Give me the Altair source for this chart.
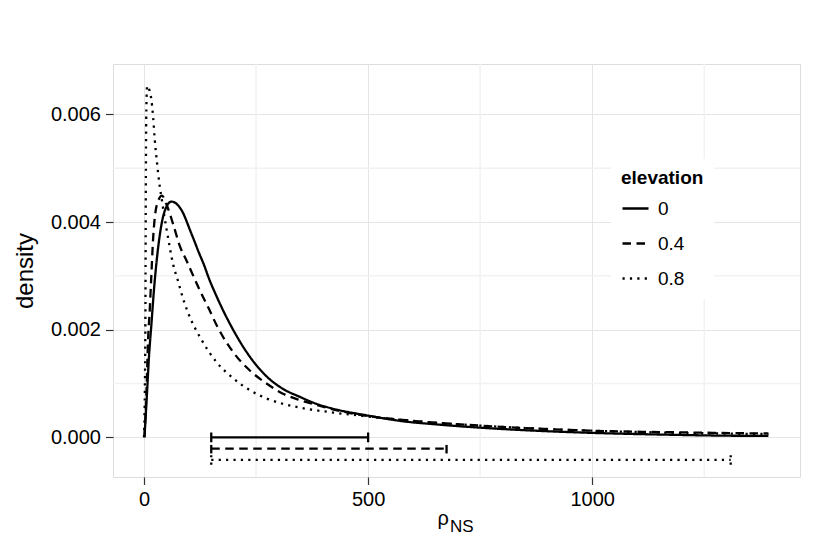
import altair as alt
import pandas as pd

# ---------------- data ----------------
elevations = ["0", "0.4", "0.8"]

# elevation 0 (solid)
x_e0 = [1, 7, 11, 16.5, 22, 29, 36.5, 46, 61, 83, 105, 124, 134, 144, 164, 200, 235, 275,
        310, 348, 385, 422, 495, 576, 666, 786, 907, 1007, 1158, 1298, 1393]
y_e0 = [0, 0.00087, 0.00149, 0.0021, 0.00272, 0.00334, 0.00383, 0.0042, 0.00438, 0.00423,
        0.0038, 0.0034, 0.0032, 0.00297, 0.00258, 0.00198, 0.00151, 0.00112, 0.0009, 0.00075,
        0.00062, 0.00053, 0.00041, 0.0003, 0.00023, 0.00016, 0.00011, 0.00008, 0.00005,
        0.00003, 0.000025]

# elevation 0.4 (dashed)
x_e4 = [1, 5.5, 9, 13, 16.5, 20, 24, 31.5, 40, 50, 65, 80, 95, 112, 124, 144, 164, 200, 235,
        275, 310, 348, 385, 459, 534, 606, 706, 806, 1007, 1208, 1393]
y_e4 = [0, 0.00087, 0.0018, 0.0024, 0.00303, 0.00365, 0.00408, 0.00439, 0.00449, 0.00433,
        0.00396, 0.00355, 0.00328, 0.00296, 0.00274, 0.0024, 0.00205, 0.00157, 0.00125,
        0.00099, 0.00081, 0.00069, 0.0006, 0.00045, 0.00036, 0.0003, 0.00024, 0.00019,
        0.00012, 0.00009, 0.00007]

# elevation 0.8 (dotted)
x_e8 = [0, 3, 4, 5, 7, 12.7, 16.5, 20.2, 24, 29, 35, 40, 45.5, 53.6, 65, 76, 87, 98, 127,
        161.5, 200, 237, 274, 311, 348, 422, 496, 606, 706, 806, 1007, 1208, 1393]
y_e8 = [0, 0.002, 0.0045, 0.006, 0.00653, 0.00643, 0.00627, 0.00596, 0.00553, 0.0051,
        0.00467, 0.0044, 0.0041, 0.00371, 0.00321, 0.0029, 0.00258, 0.00232, 0.00183, 0.0014,
        0.00109, 0.00087, 0.00072, 0.00062, 0.00055, 0.00046, 0.00039, 0.0003, 0.00024,
        0.00019, 0.00012, 0.00008, 0.00006]

# intervals drawn below the curves
interval_lower = [150, 150, 150]
interval_upper = [500, 675, 1309]
interval_y = [0.0, -0.00021, -0.00042]

x_ticks = [0, 500, 1000]
y_ticks = [0, 0.002, 0.004, 0.006]
x_minor = [250, 750, 1250]
y_minor = [0.001, 0.003, 0.005]

y_title = "density"
x_title_main = ["ρ"]
x_title_sub = ["NS"]
legend_title = "elevation"

# ---------------- tables ----------------
rows = []
for lab, xs, ys in zip(elevations, [x_e0, x_e4, x_e8], [y_e0, y_e4, y_e8]):
    for xv, yv in zip(xs, ys):
        rows.append({"elevation": lab, "rho": xv, "density": yv})
curves = pd.DataFrame(rows)

bars = pd.DataFrame({"elevation": elevations, "lower": interval_lower,
                     "upper": interval_upper, "y": interval_y})

CAP = 0.00009
cap_rows = []
for lab, lo, hi, yv in zip(elevations, interval_lower, interval_upper, interval_y):
    for xv in (lo, hi):
        cap_rows.append({"elevation": lab, "x": xv, "y_lo": yv - CAP, "y_hi": yv + CAP})
caps = pd.DataFrame(cap_rows)

minor_x_df = pd.DataFrame({"v": x_minor})
minor_y_df = pd.DataFrame({"v": y_minor})
t_main = pd.DataFrame({"t": x_title_main})
t_sub = pd.DataFrame({"t": x_title_sub})

# ---------------- scales / axes ----------------
FONT = "Liberation Sans"
LW = 2.3
xscale = alt.Scale(domain=[-69.2, 1463.6], nice=False, zero=False)
yscale = alt.Scale(domain=[-0.000738, 0.006936], nice=False, zero=False)
dash_scale = alt.Scale(domain=elevations, range=[[1, 0], [8.5, 5.5], [2.2, 5.2]])

x_axis = alt.Axis(values=x_ticks, format="d", title=None, grid=True, gridColor="#e5e5e5",
                  gridWidth=1, domain=False, tickColor="#333333", tickSize=7.5, tickWidth=1.2,
                  labelFontSize=20, labelColor="black", labelPadding=5, labelFont=FONT,
                  labelFlush=False, labelOverlap=False)
y_axis = alt.Axis(values=y_ticks, format=".3f", title=y_title, grid=True, gridColor="#e5e5e5",
                  gridWidth=1, domain=False, tickColor="#333333", tickSize=7.5, tickWidth=1.2,
                  labelFontSize=20, labelColor="black", labelPadding=5, labelFont=FONT,
                  labelOverlap=False, titleFontSize=24, titleFontWeight="normal",
                  titleColor="black", titleFont=FONT, titleX=-76, titleY=206.5)

legend = alt.Legend(title=legend_title, orient="none", legendX=498, legendY=95,
                    fillColor="white", padding=10, symbolType="stroke", symbolSize=676,
                    symbolStrokeWidth=LW, symbolStrokeColor="black", labelFontSize=19,
                    labelFont=FONT, labelColor="black", labelOffset=8, titleFontSize=19,
                    titleFont=FONT, titleFontWeight="bold", titleColor="black",
                    titlePadding=6, rowPadding=10)

dash = alt.StrokeDash("elevation:N", scale=dash_scale, legend=legend)

minor_v = alt.Chart(minor_x_df).mark_rule(color="#f2f2f2", strokeWidth=1.5).encode(
    x=alt.X("v:Q", scale=xscale, axis=x_axis))
minor_h = alt.Chart(minor_y_df).mark_rule(color="#f2f2f2", strokeWidth=1.5).encode(
    y=alt.Y("v:Q", scale=yscale, axis=y_axis))

lines = alt.Chart(curves).mark_line(color="black", strokeWidth=LW, interpolate="monotone").encode(
    x=alt.X("rho:Q", scale=xscale, axis=x_axis),
    y=alt.Y("density:Q", scale=yscale, axis=y_axis),
    strokeDash=dash,
)

hbars = alt.Chart(bars).mark_rule(color="black", strokeWidth=LW).encode(
    x=alt.X("lower:Q", scale=xscale, axis=x_axis),
    x2="upper:Q",
    y=alt.Y("y:Q", scale=yscale, axis=y_axis),
    strokeDash=dash,
)

vcaps = alt.Chart(caps).mark_rule(color="black", strokeWidth=LW).encode(
    x=alt.X("x:Q", scale=xscale, axis=x_axis),
    y=alt.Y("y_lo:Q", scale=yscale, axis=y_axis),
    y2="y_hi:Q",
    strokeDash=dash,
)

title_main = alt.Chart(t_main).mark_text(fontSize=20, font=FONT, align="right",
                                         baseline="alphabetic", color="black").encode(
    x=alt.value(336), y=alt.value(461), text="t:N")
title_sub = alt.Chart(t_sub).mark_text(fontSize=17, font=FONT, align="left",
                                       baseline="alphabetic", color="black").encode(
    x=alt.value(337), y=alt.value(468), text="t:N")

chart = alt.layer(minor_v, minor_h, lines, hbars, vcaps, title_main, title_sub).properties(
    width=687, height=413,
    padding={"left": 105, "top": 56, "right": 14, "bottom": 60},
    autosize=alt.AutoSizeParams(type="none"),
).configure_view(stroke="#7f7f7f", strokeWidth=1).configure(font=FONT)

chart.save("out.html", embed_options={"renderer": "svg", "actions": False})
